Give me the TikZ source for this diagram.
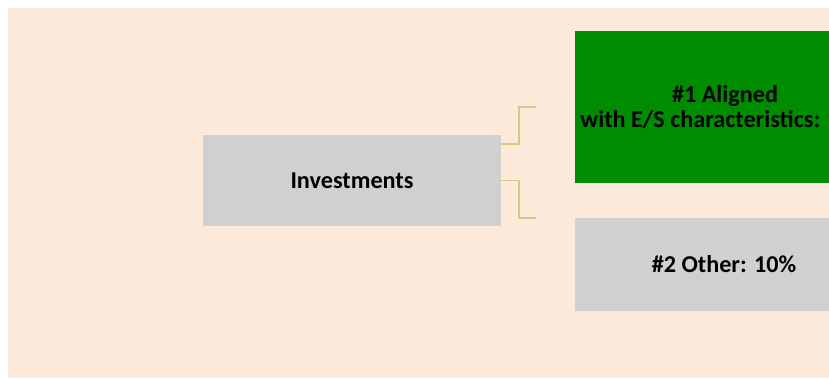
\documentclass[tikz,border=0pt]{standalone}
\usepackage{fontspec}
\setmainfont{Carlito}
\usetikzlibrary{positioning}
\definecolor{peach}{RGB}{253,234,218}
\definecolor{boxgray}{RGB}{208,208,208}
\definecolor{aligngreen}{RGB}{0,140,0}
\definecolor{linktan}{RGB}{214,200,135}

\begin{document}
\begin{tikzpicture} [x=1pt, y=-1pt,
  box/.style = {fill=boxgray, inner sep=0pt, align=center, font=\fontsize{24.2}{25.5}\selectfont\bfseries},
  link/.style = {draw=linktan, line width=1.5pt}]
\useasboundingbox (0,0) rectangle (829,378);
\clip (0,0) rectangle (829,378);
\fill[peach] (8,8) rectangle (829,378);
\node[box, minimum width=298pt, minimum height=91pt] (inv) at (352,180.5) {Investments};
\node[box, fill=aligngreen, minimum width=300pt, minimum height=152pt] (al) at (725,107) {\#1 Aligned\\with E/S characteristics: 90\%};
\node[box, minimum width=298pt, minimum height=93pt] (oth) at (724,264.5) {\#2 Other: 10\%};
\coordinate (c1) at (536,107);
\coordinate (c2) at (536,218);
\draw[link] ([yshift=36.5pt]inv.east) -- ++(18,0) |- (c1);
\draw[link] (inv.east) -- ++(18,0) |- (c2);
\end{tikzpicture}
\end{document}
